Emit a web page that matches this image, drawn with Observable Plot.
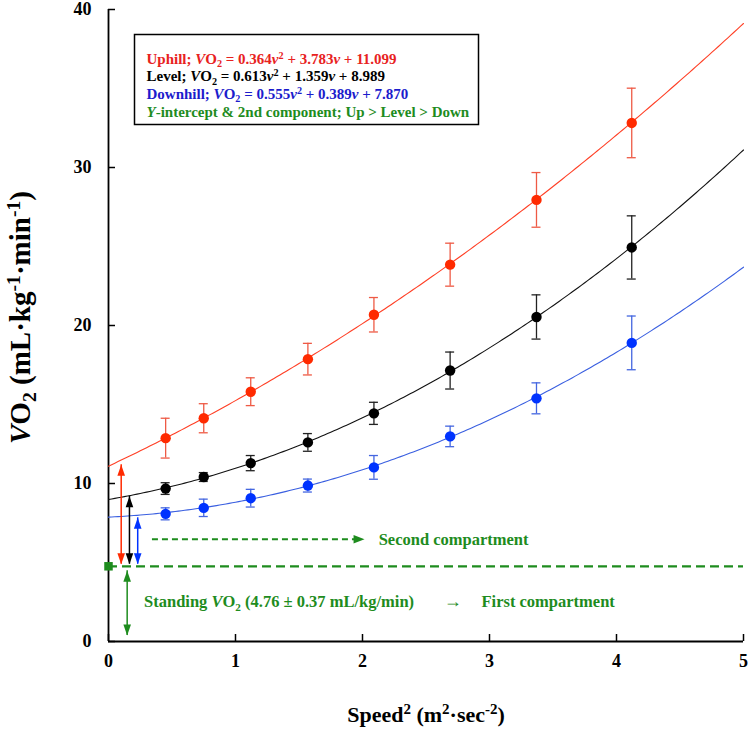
<!DOCTYPE html>
<html><head><meta charset="utf-8">
<script src="https://cdn.jsdelivr.net/npm/d3@7"></script>
<script src="https://cdn.jsdelivr.net/npm/@observablehq/plot@0.6"></script>
<style>
html,body{margin:0;padding:0;background:#fff;}
#chart svg{overflow:visible;display:block;}
</style></head><body><div id="chart"></div>
<script>
// ---- data ----
const speed = [0.45, 0.75, 1.12, 1.57, 2.09, 2.69, 3.37, 4.12];
const upMean = [12.87, 14.13, 15.81, 17.87, 20.68, 23.85, 27.95, 32.82];
const upSD = [1.26, 0.92, 0.88, 1.0, 1.09, 1.36, 1.73, 2.2];
const levelMean = [9.68, 10.41, 11.29, 12.6, 14.44, 17.15, 20.54, 24.94];
const levelSD = [0.37, 0.28, 0.48, 0.56, 0.7, 1.17, 1.4, 2.0];
const downMean = [8.08, 8.46, 9.07, 9.87, 11.02, 12.98, 15.39, 18.9];
const downSD = [0.38, 0.55, 0.56, 0.41, 0.75, 0.65, 0.98, 1.7];
// quadratic fit coefficients (a, b, c) printed in the legend
const upFit = [0.364, 3.783, 11.099];
const levelFit = [0.613, 1.359, 8.989];
const downFit = [0.555, 0.389, 7.870];
const standingVO2 = 4.76;
const xTicks = [0, 1, 2, 3, 4, 5];
const yTicks = [0, 10, 20, 30, 40];
const legendLines = [
  "Uphill; *V*O_2_ = 0.364*v*^2^ + 3.783*v* + 11.099",
  "Level; *V*O_2_ = 0.613*v*^2^ + 1.359*v* + 8.989",
  "Downhill; *V*O_2_ = 0.555*v*^2^ + 0.389*v* + 7.870",
  "*Y*-intercept & 2nd component; Up > Level > Down"
];
const xLabel = "Speed^2^ (m^2^·sec^-2^)";
const yLabel = "*V*O_2_ (mL·kg^-1^·min^-1^)";
const secondLabel = "Second compartment";
const standingLabel = "Standing *V*O_2_ (4.76 ± 0.37 mL/kg/min)";
const arrowLabel = "→";
const firstLabel = "First compartment";

// ---- layout / style ----
const W = 750, H = 737, ML = 108, MR = 7, MT = 9, MB = 96;
const plotW = W - ML - MR, plotH = H - MT - MB;
const GREEN = "#1e8c1e";
const series = [
  {name: "Uphill", mean: upMean, sd: upSD, fit: upFit, pt: "#ff2a00", line: "#ff3f25", err: "#ee5a45", text: "#e8221e"},
  {name: "Level", mean: levelMean, sd: levelSD, fit: levelFit, pt: "#000000", line: "#111111", err: "#222222", text: "#000000"},
  {name: "Downhill", mean: downMean, sd: downSD, fit: downFit, pt: "#0033ff", line: "#3a5fe0", err: "#4466e0", text: "#1c1ccc"}
];
// annotation anchors (data units)
const ann = {
  interceptX: [0.10, 0.165, 0.23],
  interceptTop: [11.19, 9.2, 7.83],
  interceptBottom: 4.89,
  greenX: 0.147, greenTop: 4.47, greenBottom: 0.38,
  secondY: 6.47, secondX1: 0.346, secondX2: 2.016, secondTextX: 2.127,
  bottomY: 2.52, standingX: 0.28, arrowX: 2.71, firstX: 2.937
};

// custom arrowhead symbols: tip at origin
const HL = 11, HW = 3.8;
const triUp = {draw(c) {c.moveTo(0, 0); c.lineTo(-HW, HL); c.lineTo(HW, HL); c.closePath();}};
const triDown = {draw(c) {c.moveTo(0, 0); c.lineTo(-HW, -HL); c.lineTo(HW, -HL); c.closePath();}};
const triRight = {draw(c) {c.moveTo(0, 0); c.lineTo(-HL, -HW - 0.5); c.lineTo(-HL, HW + 0.5); c.closePath();}};

const marks = [];
// axis lines & inward ticks
marks.push(Plot.ruleX([0], {stroke: "#000", strokeWidth: 1.8}));
marks.push(Plot.ruleY([0], {stroke: "#000", strokeWidth: 1.8}));
marks.push(Plot.ruleY(yTicks, {y: d => d, insetRight: plotW - 7, stroke: "#000", strokeWidth: 1.5}));
marks.push(Plot.ruleX(xTicks, {x: d => d, insetTop: plotH - 7, stroke: "#000", strokeWidth: 1.5}));
marks.push(Plot.axisY({ticks: yTicks, tickSize: 0, tickPadding: 17, fontSize: 18, fontWeight: "bold", label: null, tickFormat: d => d}));
marks.push(Plot.axisX({ticks: xTicks, tickSize: 0, tickPadding: 13, fontSize: 18, fontWeight: "bold", label: null, tickFormat: d => d}));

// standing line
marks.push(Plot.ruleY([standingVO2], {x1: 0, x2: 5, stroke: GREEN, strokeWidth: 2.2, strokeDasharray: "9,5"}));

// series
for (const s of series) {
  const [a, b, c] = s.fit;
  const curve = d3.range(0, 5.0001, 0.025).map(x => ({x, y: a * x * x + b * x + c}));
  const rows = speed.map((x, i) => ({x, y: s.mean[i], lo: s.mean[i] - s.sd[i], hi: s.mean[i] + s.sd[i]}));
  marks.push(Plot.line(curve, {x: "x", y: "y", stroke: s.line, strokeWidth: 1.1}));
  marks.push(Plot.ruleX(rows, {x: "x", y1: "lo", y2: "hi", stroke: s.err, strokeWidth: 1.3}));
  marks.push(Plot.ruleY(rows, {y: "hi", x1: "x", x2: "x", insetLeft: -4.5, insetRight: -4.5, stroke: s.err, strokeWidth: 1.3}));
  marks.push(Plot.ruleY(rows, {y: "lo", x1: "x", x2: "x", insetLeft: -4.5, insetRight: -4.5, stroke: s.err, strokeWidth: 1.3}));
  marks.push(Plot.dot(rows, {x: "x", y: "y", r: 5.2, fill: s.pt, stroke: "none"}));
}

// intercept double arrows
series.forEach((s, i) => {
  const x = ann.interceptX[i], top = ann.interceptTop[i], bot = ann.interceptBottom;
  const col = s.name === "Level" ? "#000" : s.pt;
  marks.push(Plot.ruleX([x], {x: d => d, y1: bot, y2: top, stroke: col, strokeWidth: 1.5}));
  marks.push(Plot.dot([x], {x: d => d, y: top, symbol: triUp, fill: col, stroke: "none", r: 4}));
  marks.push(Plot.dot([x], {x: d => d, y: bot, symbol: triDown, fill: col, stroke: "none", r: 4}));
});
// green double arrow (first compartment)
marks.push(Plot.ruleX([ann.greenX], {x: d => d, y1: ann.greenBottom, y2: ann.greenTop, stroke: GREEN, strokeWidth: 1.5}));
marks.push(Plot.dot([ann.greenX], {x: d => d, y: ann.greenTop, symbol: triUp, fill: GREEN, stroke: "none", r: 4}));
marks.push(Plot.dot([ann.greenX], {x: d => d, y: ann.greenBottom, symbol: triDown, fill: GREEN, stroke: "none", r: 4}));
// second compartment dashed arrow
marks.push(Plot.ruleY([ann.secondY], {y: d => d, x1: ann.secondX1, x2: ann.secondX2 - 0.05, stroke: GREEN, strokeWidth: 2, strokeDasharray: "6,4"}));
marks.push(Plot.dot([ann.secondY], {x: ann.secondX2, y: d => d, symbol: triRight, fill: GREEN, stroke: "none", r: 4}));
// standing square
marks.push(Plot.dot([standingVO2], {x: 0, y: d => d, symbol: "square", r: 4.8, fill: GREEN, stroke: "none"}));

// green texts
const gText = {fill: GREEN, fontWeight: "bold", fontSize: 16.5, textAnchor: "start", text: d => d};
marks.push(Plot.text([secondLabel], {...gText, x: ann.secondTextX, y: ann.secondY}));
marks.push(Plot.text([standingLabel], {...gText, x: ann.standingX, y: ann.bottomY}));
marks.push(Plot.text([arrowLabel], {...gText, fontWeight: "normal", fontSize: 18, textAnchor: "middle", x: ann.arrowX, y: ann.bottomY}));
marks.push(Plot.text([firstLabel], {...gText, x: ann.firstX, y: ann.bottomY}));

// legend box
marks.push(Plot.frame({insetLeft: 26, insetTop: 25, insetRight: 265, insetBottom: 517, stroke: "#000", strokeWidth: 1.5, fill: "#fff"}));
const legendColors = [series[0].text, series[1].text, series[2].text, GREEN];
const legendDy = [43.7, 61.2, 78.7, 97];
legendLines.forEach((t, i) => {
  marks.push(Plot.text([t], {text: d => d, frameAnchor: "top-left", dx: 38, dy: legendDy[i], textAnchor: "start", fill: legendColors[i], fontWeight: "bold", fontSize: 15}));
});

// axis titles
marks.push(Plot.text([xLabel], {text: d => d, frameAnchor: "bottom", textAnchor: "middle", dy: 80, fontSize: 22, fontWeight: "bold", fill: "#000"}));
marks.push(Plot.text([yLabel], {text: d => d, frameAnchor: "left", textAnchor: "middle", dx: -88, dy: -8, rotate: -90, fontSize: 29, fontWeight: "bold", fill: "#000"}));

const chart = Plot.plot({
  width: W, height: H,
  marginLeft: ML, marginRight: MR, marginTop: MT, marginBottom: MB,
  x: {domain: [0, 5]},
  y: {domain: [0, 40]},
  style: {fontFamily: "'Liberation Serif', 'Times New Roman', serif", background: "#fff", color: "#000", overflow: "visible"},
  marks
});
document.getElementById("chart").appendChild(chart);

// rich text: *italic*, _sub_, ^sup^
function richify(el) {
  const src = el.textContent;
  if (!/[*_^]/.test(src)) return;
  const base = parseFloat(getComputedStyle(el).fontSize) || 14;
  const parts = src.split(/(\*[^*]+\*|_[^_]+_|\^[^\^]+\^)/).filter(p => p !== "");
  el.textContent = "";
  let shift = 0;
  for (const p of parts) {
    const ts = document.createElementNS("http://www.w3.org/2000/svg", "tspan");
    let txt = p, target = 0;
    if (p[0] === "*") { txt = p.slice(1, -1); ts.setAttribute("font-style", "italic"); }
    else if (p[0] === "_") { txt = p.slice(1, -1); target = 0.22 * base; ts.setAttribute("font-size", (0.68 * base).toFixed(1)); }
    else if (p[0] === "^") { txt = p.slice(1, -1); target = -0.34 * base; ts.setAttribute("font-size", (0.68 * base).toFixed(1)); }
    if (target !== shift) { ts.setAttribute("dy", (target - shift).toFixed(2)); shift = target; }
    ts.textContent = txt;
    el.appendChild(ts);
  }
}
chart.querySelectorAll("text").forEach(richify);
</script></body></html>
